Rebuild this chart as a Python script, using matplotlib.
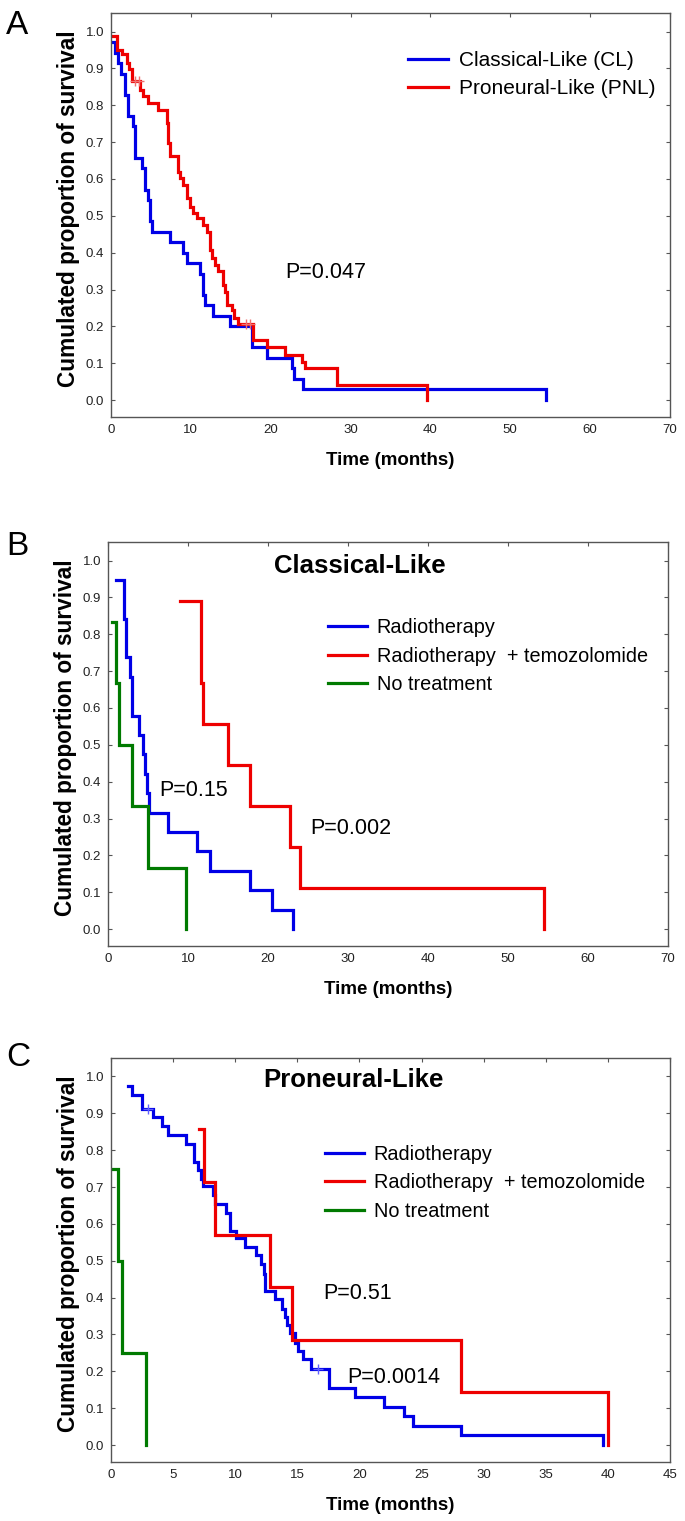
import numpy as np
import matplotlib
matplotlib.use("Agg")
import matplotlib.pyplot as plt
from matplotlib.ticker import FormatStrFormatter

plt.rcParams['font.family'] = ['Liberation Sans', 'DejaVu Sans']

BLUE = '#0000e6'
RED = '#ee0000'
GREEN = '#007a00'

# ---------------- panel A : CL vs PNL (times in months, survival after each time)
a_cl_t = [0.0, 0.5, 0.92, 1.21, 1.75, 2.17, 2.8, 3.01, 3.84, 4.26, 4.67, 4.88, 5.09,
          7.39, 9.06, 9.56, 11.14, 11.56, 11.77, 12.81, 14.9, 17.61, 19.49, 22.62,
          22.92, 24.08, 54.5]
a_cl_s = [0.971, 0.943, 0.914, 0.886, 0.829, 0.771, 0.743, 0.657, 0.629, 0.571, 0.543,
          0.486, 0.457, 0.429, 0.4, 0.371, 0.343, 0.286, 0.257, 0.229, 0.2, 0.143,
          0.114, 0.086, 0.057, 0.029, 0.0]
a_pnl_t = [0.0, 0.71, 1.34, 1.96, 2.30, 2.59, 3.63, 4.05, 4.67, 5.93, 6.97, 7.18, 7.39,
           8.43, 8.64, 9.06, 9.56, 9.89, 10.31, 10.81, 11.56, 11.98, 12.40, 12.61,
           13.02, 13.44, 13.98, 14.28, 14.57, 15.11, 15.44, 15.94, 17.74, 19.49,
           21.79, 23.88, 24.29, 28.26, 39.6]
a_pnl_s = [0.987, 0.951, 0.938, 0.915, 0.897, 0.865, 0.842, 0.824, 0.806, 0.788, 0.752,
           0.697, 0.661, 0.620, 0.602, 0.584, 0.548, 0.525, 0.507, 0.494, 0.476,
           0.457, 0.408, 0.385, 0.367, 0.349, 0.313, 0.294, 0.258, 0.245, 0.222,
           0.206, 0.163, 0.145, 0.122, 0.104, 0.086, 0.041, 0.0]
a_pnl_cens_t = [3.0, 3.5, 16.9, 17.4]
a_pnl_cens_s = [0.865, 0.865, 0.206, 0.206]
a_labels = ['Classical-Like (CL)', 'Proneural-Like (PNL)']
a_p = 'P=0.047'

# ---------------- panel B : Classical-Like by treatment
b_rt_t = [1.0, 2.0, 2.25, 2.75, 3.04, 3.92, 4.33, 4.63, 4.92, 5.17, 7.54, 11.08,
          12.75, 17.75, 20.46, 23.08]
b_rt_s = [0.947, 0.842, 0.737, 0.684, 0.579, 0.526, 0.474, 0.421, 0.368, 0.316,
          0.263, 0.211, 0.158, 0.105, 0.053, 0.0]
b_tmz_t = [9.0, 11.6, 11.85, 15.0, 17.75, 22.75, 24.0, 54.5]
b_tmz_s = [0.889, 0.667, 0.556, 0.444, 0.333, 0.222, 0.111, 0.0]
b_nt_t = [0.46, 1.0, 1.375, 3.04, 5.0, 9.75]
b_nt_s = [0.833, 0.667, 0.5, 0.333, 0.167, 0.0]
b_p = ['P=0.15', 'P=0.002']

# ---------------- panel C : Proneural-Like by treatment
c_rt_t = [1.39, 1.71, 2.46, 3.4, 4.07, 4.6, 6.02, 6.69, 7.01, 7.23, 7.42, 8.22, 8.35,
          9.24, 9.56, 10.1, 10.8, 11.65, 12.1, 12.29, 12.42, 13.2, 13.79, 13.98,
          14.19, 14.43, 14.78, 15.05, 15.45, 16.12, 17.54, 19.68, 21.95, 23.6, 24.3,
          28.2, 39.6]
c_rt_s = [0.975, 0.95, 0.912, 0.889, 0.865, 0.841, 0.817, 0.767, 0.745, 0.722, 0.704,
          0.677, 0.654, 0.63, 0.582, 0.563, 0.536, 0.516, 0.491, 0.464, 0.418, 0.396,
          0.369, 0.348, 0.326, 0.305, 0.278, 0.255, 0.233, 0.207, 0.154, 0.129,
          0.104, 0.079, 0.052, 0.027, 0.0]
c_rt_cens_t = [3.0, 16.7]
c_rt_cens_s = [0.912, 0.207]
c_tmz_t = [7.07, 7.47, 8.35, 12.77, 14.56, 28.2, 39.97]
c_tmz_s = [0.857, 0.714, 0.571, 0.429, 0.286, 0.143, 0.0]
c_nt_t = [0.05, 0.59, 0.86, 2.81]
c_nt_s = [0.75, 0.5, 0.25, 0.0]
c_p = ['P=0.51', 'P=0.0014']

treat_labels = ['Radiotherapy', 'Radiotherapy  + temozolomide', 'No treatment']

fig = plt.figure(figsize=(6.85, 15.21), dpi=100)
axA = fig.add_axes([0.1620, 0.7258, 0.8161, 0.2656])
axB = fig.add_axes([0.1577, 0.3780, 0.8175, 0.2656])
axC = fig.add_axes([0.1620, 0.0388, 0.8161, 0.2656])


def km(ax, t, s, color, label):
    ax.plot(t, s, drawstyle='steps-post', color=color, lw=2.3, label=label,
            solid_joinstyle='miter')


def setup(ax, xmax, xstep):
    ax.set_xlim(0, xmax)
    ax.set_ylim(-0.046, 1.05)
    ax.set_xticks(np.arange(0, xmax + 1, xstep))
    ax.set_yticks(np.arange(0, 1.01, 0.1))
    ax.yaxis.set_major_formatter(FormatStrFormatter('%.1f'))
    ax.tick_params(direction='in', length=3, top=True, right=True, labelsize=9.5,
                   labelcolor='#222222', color='#555555', pad=5)
    ax.tick_params(axis='x', bottom=False)
    for sp in ax.spines.values():
        sp.set_color('#555555')
        sp.set_linewidth(1.0)
    ax.set_xlabel('Time (months)', fontweight='bold', fontsize=13.5)
    ax.xaxis.set_label_coords(0.5, -0.087)
    ax.set_ylabel('Cumulated proportion of survival', fontweight='bold', fontsize=16.3)
    ax.yaxis.set_label_coords(-0.056, 0.515)


def legend(ax, anchor, size, spacing):
    ax.legend(loc='upper left', bbox_to_anchor=anchor, frameon=False, fontsize=size,
              handlelength=1.95, handletextpad=0.5, labelspacing=spacing, borderpad=0,
              borderaxespad=0)


# panel A
km(axA, a_cl_t, a_cl_s, BLUE, a_labels[0])
km(axA, a_pnl_t, a_pnl_s, RED, a_labels[1])
axA.plot(a_pnl_cens_t, a_pnl_cens_s, '+', color='#f07070', ms=7, mew=1)
setup(axA, 70, 10)
axA.text(21.8, 0.345, a_p, fontsize=15.5, va='center', ha='left')
legend(axA, (0.531, 0.905), 15, 0.4)

# panel B
km(axB, b_rt_t, b_rt_s, BLUE, treat_labels[0])
km(axB, b_tmz_t, b_tmz_s, RED, treat_labels[1])
km(axB, b_nt_t, b_nt_s, GREEN, treat_labels[2])
setup(axB, 70, 10)
axB.text(0.45, 0.94, 'Classical-Like', transform=axB.transAxes, fontsize=18.5,
         fontweight='bold', ha='center', va='center')
axB.text(6.4, 0.377, b_p[0], fontsize=15.5, va='center', ha='left')
axB.text(25.3, 0.272, b_p[1], fontsize=15.5, va='center', ha='left')
legend(axB, (0.393, 0.812), 14.3, 0.48)

# panel C
km(axC, c_rt_t, c_rt_s, BLUE, treat_labels[0])
km(axC, c_tmz_t, c_tmz_s, RED, treat_labels[1])
km(axC, c_nt_t, c_nt_s, GREEN, treat_labels[2])
axC.plot(c_rt_cens_t, c_rt_cens_s, '+', color='#6060ff', ms=7, mew=1)
setup(axC, 45, 5)
axC.text(0.433, 0.946, 'Proneural-Like', transform=axC.transAxes, fontsize=18.5,
         fontweight='bold', ha='center', va='center')
axC.text(17.05, 0.41, c_p[0], fontsize=15.5, va='center', ha='left')
axC.text(19.06, 0.183, c_p[1], fontsize=15.5, va='center', ha='left')
legend(axC, (0.383, 0.785), 14.3, 0.48)

# panel letters
for letter, y in [('A', 34.5), ('B', 555), ('C', 1066)]:
    fig.text(6 / 685, 1 - y / 1521, letter, fontsize=24, va='baseline', ha='left')

fig.savefig('out.png', dpi=100)
